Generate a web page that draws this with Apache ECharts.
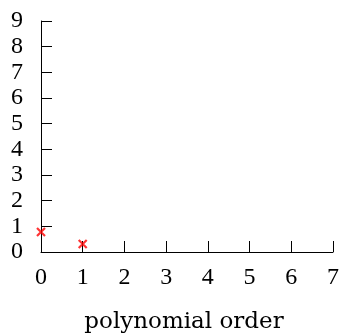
<!DOCTYPE html>
<html>
<head>
<meta charset="utf-8">
<script src="https://cdn.jsdelivr.net/npm/echarts@6/dist/echarts.min.js"></script>
<style>
  html, body { margin: 0; padding: 0; background: #fff; }
  #main { width: 343px; height: 336px; }
</style>
</head>
<body>
<div id="main"></div>
<script>
const orders = [0, 1];
const errors = [0.78, 0.31];
const xTicks = [0, 1, 2, 3, 4, 5, 6, 7];
const yTicks = [0, 1, 2, 3, 4, 5, 6, 7, 8, 9];

const chart = echarts.init(document.getElementById('main'));
const font = 'Liberation Serif';

const axisCommon = {
  axisLine: { lineStyle: { color: '#000', width: 1 } },
  axisTick: { inside: true, length: 11, lineStyle: { color: '#000', width: 1 } },
  splitLine: { show: false },
  axisLabel: { color: '#000', fontFamily: font, fontSize: 24 }
};

chart.setOption({
  animation: false,
  grid: { left: 41, right: 10, top: 21, bottom: 84, containLabel: false, outerBoundsMode: 'none' },
  xAxis: Object.assign({}, axisCommon, {
    type: 'value',
    min: xTicks[0],
    max: xTicks[xTicks.length - 1],
    interval: 1,
    name: 'polynomial order',
    nameLocation: 'middle',
    nameGap: 59,
    nameTextStyle: { color: '#000', fontFamily: 'DejaVu Serif', fontSize: 23, padding: [0, 6, 0, 0] },
    axisLabel: Object.assign({}, axisCommon.axisLabel, { margin: 14 })
  }),
  yAxis: Object.assign({}, axisCommon, {
    type: 'value',
    min: yTicks[0],
    max: yTicks[yTicks.length - 1],
    interval: 1,
    axisLabel: Object.assign({}, axisCommon.axisLabel, { margin: 18 })
  }),
  series: [{
    type: 'scatter',
    data: orders.map((o, i) => [o, errors[i]]),
    symbol: 'path://M0,0L10,10M10,0L0,10',
    symbolSize: 8,
    itemStyle: { color: 'none', borderColor: '#ff0000', borderWidth: 2.2 }
  }]
});
</script>
</body>
</html>
